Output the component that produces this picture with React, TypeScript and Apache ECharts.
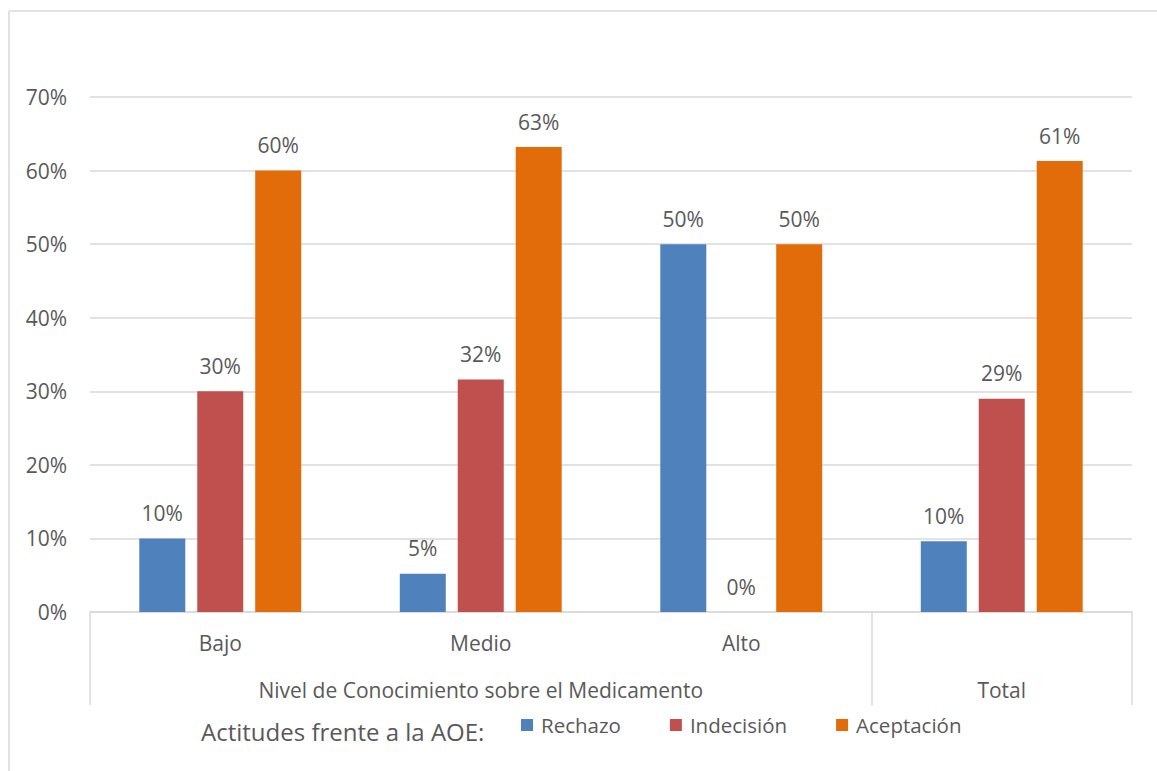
import React, { useEffect, useRef } from "react";
import * as echarts from "echarts";

const categories = ["Bajo", "Medio", "Alto", "Total"];
const groupLabels = ["Nivel de Conocimiento sobre el Medicamento", "Total"];
const seriesNames = ["Rechazo", "Indecisión", "Aceptación"];
const rechazo = [10, 5.2, 50, 9.6];
const indecision = [30, 31.6, 0, 29.0];
const aceptacion = [60, 63.2, 50, 61.3];
const legendTitle = "Actitudes frente a la AOE:";
const colors = ["#4F81BD", "#C0504D", "#E36C0A"];

const FONT = "Open Sans";
const TXT = "#595959";
const GRID = "#d9d9d9";

export default function App() {
  const ref = useRef<HTMLDivElement>(null);
  useEffect(() => {
    if (!ref.current) return;
    const chart = echarts.init(ref.current, null, { renderer: "svg" });
    const values = [rechazo, indecision, aceptacion];
    chart.setOption({
      animation: false,
      backgroundColor: "#ffffff",
      textStyle: { fontFamily: FONT },
      grid: { left: 90, right: 25, top: 97, bottom: 159 },
      legend: {
        left: 521,
        top: 713,
        padding: 0,
        icon: "rect",
        itemWidth: 12,
        itemHeight: 12,
        itemGap: 49,
        data: seriesNames,
        textStyle: { color: TXT, fontSize: 20.5, fontFamily: FONT, lineHeight: 24, padding: [0, 0, 0, 3] },
      },
      xAxis: [
        {
          type: "category",
          data: categories,
          axisLine: { lineStyle: { color: GRID, width: 1.5 } },
          axisTick: { show: false },
          axisLabel: {
            color: TXT,
            fontSize: 21,
            fontFamily: FONT,
            margin: 20,
            formatter: (v: string) => (v === "Total" ? "" : v),
          },
        },
        {
          type: "value",
          min: 0,
          max: 4,
          position: "bottom",
          splitLine: { show: false },
          axisLine: { show: false },
          axisTick: { show: true, customValues: [0, 3, 4], length: 93, lineStyle: { color: GRID, width: 1.5 } },
          axisLabel: {
            color: TXT,
            fontSize: 21,
            fontFamily: FONT,
            margin: 67,
            customValues: [1.5, 3.5],
            formatter: (v: number) => (v < 3 ? groupLabels[0] : groupLabels[1]),
          },
        },
      ],
      yAxis: {
        type: "value",
        min: 0,
        max: 70,
        interval: 10,
        axisLine: { show: false },
        axisTick: { show: false },
        splitLine: { lineStyle: { color: GRID, width: 1.5 } },
        axisLabel: { color: TXT, fontSize: 21, fontFamily: FONT, margin: 23, formatter: "{value}%" },
      },
      series: seriesNames.map((name, i) => ({
        name,
        type: "bar",
        xAxisIndex: 0,
        data: values[i],
        barWidth: 46,
        barGap: "26%",
        itemStyle: { color: colors[i] },
        label: {
          show: true,
          position: "top",
          distance: 15,
          color: TXT,
          fontSize: 21,
          fontFamily: FONT,
          formatter: (p: any) => Math.round(p.value) + "%",
        },
      })),
      graphic: [
        { type: "line", shape: { x1: 9, y1: 11, x2: 1157, y2: 11 }, style: { stroke: GRID, lineWidth: 1.5 } },
        { type: "line", shape: { x1: 9, y1: 11, x2: 9, y2: 771 }, style: { stroke: GRID, lineWidth: 1.5 } },
        {
          type: "text",
          left: 201,
          top: 719,
          style: { text: legendTitle, fill: TXT, fontSize: 24, fontFamily: FONT },
        },
      ],
    });
    return () => chart.dispose();
  }, []);
  return <div ref={ref} style={{ position: "fixed", left: 0, top: 0, width: 1157, height: 771 }} />;
}
